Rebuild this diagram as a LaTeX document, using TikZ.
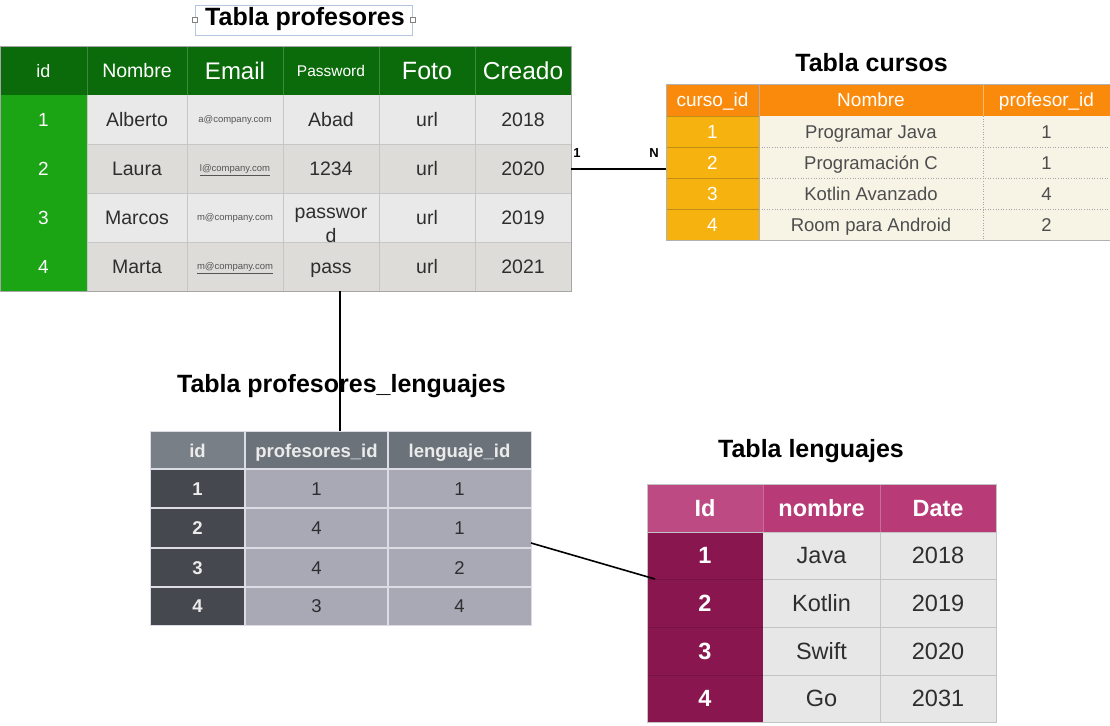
\documentclass[tikz,border=0pt]{standalone}
\usepackage{fontspec}
\setmainfont{Liberation Sans}
\definecolor{profhead}{HTML}{0B6B0B}
\definecolor{profid}{HTML}{1BA514}
\definecolor{proflight}{HTML}{E9E9E9}
\definecolor{profdark}{HTML}{DDDCD8}
\definecolor{profgrid}{HTML}{C6C6C6}
\definecolor{txt}{HTML}{2E2E2E}
\definecolor{mailtxt}{HTML}{555555}
\definecolor{curhead}{HTML}{FA8A0C}
\definecolor{curid}{HTML}{F6B20F}
\definecolor{curbody}{HTML}{F7F4E6}
\definecolor{curline}{HTML}{C28C18}
\definecolor{plhead}{HTML}{6B727A}
\definecolor{plheadid}{HTML}{787F87}
\definecolor{plid}{HTML}{45484F}
\definecolor{plbody}{HTML}{A8A9B5}
\definecolor{plgrid}{HTML}{DCDCE4}
\definecolor{lghead}{HTML}{B83A77}
\definecolor{lgheadid}{HTML}{BE4A83}
\definecolor{lgid}{HTML}{8A1650}
\definecolor{lgbody}{HTML}{E7E7E7}
\definecolor{lggrid}{HTML}{C4C4C4}
\definecolor{selbox}{HTML}{B4C6E2}
\tikzset{
  frame/.style={inner sep=0pt, outer sep=0pt, draw=#1, line width=0.8pt},
  tt/.style={inner sep=0pt, outer sep=0pt, align=center},
  titletext/.style={font=\fontsize{25}{30}\selectfont\bfseries, anchor=base, inner sep=0pt},
  conn/.style={line width=2pt, black},
  fs/.style={font=\fontsize{#1}{#1}\selectfont, text height={#1*0.716pt}, text depth=0pt},
  fsb/.style={font=\fontsize{#1}{#1}\selectfont\bfseries, text height={#1*0.716pt}, text depth=0pt},
}
\begin{document}
\begin{tikzpicture}[x=1pt,y=-1pt]
\useasboundingbox (0,0) rectangle (1110,725);
\fill[white] (0,0) rectangle (1110,725);

% ================= Tabla profesores =================
\node[titletext] (tprof) at (305,26) {Tabla profesores};
\node[draw=selbox, line width=0.6pt, minimum width=217pt, minimum height=30pt, inner sep=0pt] (sel) at (303.5,20) {};
\foreach \s in {west,east}
  \node[draw=gray, fill=white, line width=0.5pt, minimum size=5pt, inner sep=0pt] (h\s) at (sel.\s) {};

\fill[profhead] (0,46) rectangle (571,95);
\fill[profid] (0,95) rectangle (87,291);
\fill[proflight] (87,95) rectangle (571,144);
\fill[profdark] (87,144) rectangle (571,193);
\fill[proflight] (87,193) rectangle (571,242);
\fill[profdark] (87,242) rectangle (571,291);
\foreach \x in {87,187,283,379,475} {
  \draw[profgrid, line width=0.8pt] (\x,95) -- (\x,291);
  \draw[profhead!80!white, line width=0.8pt] (\x,46) -- (\x,95);
}
\foreach \y in {144,193,242}
  \draw[profgrid, line width=0.8pt] (87,\y) -- (571,\y);
\node[frame=gray!70, minimum width=571pt, minimum height=245pt] (prof) at (285.5,168.5) {};

\foreach \x/\t/\s [count=\i] in {43.5/id/18, 137/Nombre/19.5, 235/Email/24, 331/Password/15.5, 427/Foto/25, 523/Creado/24.5}
  \node[tt, fs=\s, text=white] (ph\i) at (\x,71) {\t};
\foreach \y [count=\i] in {119.5,168.5,217.5,266.5}
  \node[tt, fs=19, text=white] (pid\i) at (43.5,\y) {\i};
\foreach \y/\n/\e/\p/\c [count=\i] in {
  119.5/Alberto/{a@company.com}/Abad/2018,
  168.5/Laura/{\underline{l@company.com}}/1234/2020,
  217.5/Marcos/{m@company.com}/{}/2019,
  266.5/Marta/{\underline{m@company.com}}/pass/2021} {
  \node[tt, fs=19.5, text=txt] (pn\i) at (137,\y) {\n};
  \node[tt, fs=9.5, text=mailtxt] (pe\i) at (235,\y) {\e};
  \node[tt, fs=19.5, text=txt] (pp\i) at (331,\y) {\p};
  \node[tt, fs=19.5, text=txt] (pf\i) at (427,\y) {url};
  \node[tt, fs=19.5, text=txt] (pc\i) at (523,\y) {\c};
}
\node[tt, font=\fontsize{19.5}{24}\selectfont, text=txt, anchor=base] (pp3b) at (331,242) {passwor\\d};

% ================= Tabla cursos =================
\node[titletext] (tcur) at (871.5,71) {Tabla cursos};
\fill[curhead] (666,84) rectangle (1110,116);
\fill[curid] (666,116) rectangle (759,240);
\fill[curbody] (759,116) rectangle (1110,240);
\foreach \y in {147,178,209} {
  \draw[curline, line width=0.8pt] (666,\y) -- (759,\y);
  \draw[gray!70, line width=0.6pt, dotted] (759,\y) -- (1110,\y);
}
\draw[curline, line width=0.8pt] (666,116) -- (759,116);
\draw[gray!60, line width=0.8pt] (759,84) -- (759,240);
\draw[gray!70, line width=0.6pt, dotted] (983,116) -- (983,240);
\draw[curhead!60!white, line width=0.8pt] (983,84) -- (983,116);
\node[frame=gray!60, minimum width=444pt, minimum height=156pt] (cur) at (888,162) {};
\foreach \x/\t [count=\i] in {712.5/curso\_id, 871/Nombre, 1046.5/profesor\_id}
  \node[tt, fs=19, text=white] (ch\i) at (\x,100) {\t};
\foreach \y/\n/\p [count=\i] in {131.5/Programar Java/1, 162.5/Programación C/1, 193.5/Kotlin Avanzado/4, 224.5/Room para Android/2} {
  \node[tt, fs=19, text=white] (cid\i) at (712.5,\y) {\i};
  \node[tt, fs=18.5, text=txt!85!white] (cn\i) at (871,\y) {\n};
  \node[tt, fs=18.5, text=txt!85!white] (cp\i) at (1046.5,\y) {\p};
}

% connector profesores - cursos
\draw[conn] (prof.east) -- (prof.east -| cur.west);
\node[tt, fsb=13] (l1) at (577,153) {1};
\node[tt, fsb=13] (lN) at (654,153) {N};

% ================= Tabla profesores_lenguajes =================
\node[titletext] (tpl) at (341.5,392) {Tabla profesores\_lenguajes};
\fill[plhead] (150,431) rectangle (531,469);
\fill[plheadid] (150,431) rectangle (245,469);
\fill[plid] (150,469) rectangle (245,625);
\fill[plbody] (245,469) rectangle (531,625);
\foreach \y in {469,508,548,587}
  \draw[plgrid, line width=1.2pt] (150,\y) -- (531,\y);
\foreach \x in {245,388}
  \draw[plgrid, line width=1.2pt] (\x,431) -- (\x,625);
\node[frame=plgrid, minimum width=381pt, minimum height=194pt] (plg) at (340.5,528) {};
\foreach \x/\t [count=\i] in {197.5/id, 316.5/profesores\_id, 459.5/lenguaje\_id}
  \node[tt, fsb=18.5, text=white!92!black] (lh\i) at (\x,451) {\t};
\foreach \y/\a/\b [count=\i] in {488.5/1/1, 528/4/1, 567.5/4/2, 606/3/4} {
  \node[tt, fsb=18.5, text=white!92!black] (lid\i) at (197.5,\y) {\i};
  \node[tt, fs=18.5, text=txt] (la\i) at (316.5,\y) {\a};
  \node[tt, fs=18.5, text=txt] (lb\i) at (459.5,\y) {\b};
}

% connector profesores - profesores_lenguajes
\coordinate (vx) at (340,0);
\draw[conn] (prof.south -| vx) -- (plg.north -| vx);

% ================= Tabla lenguajes =================
\node[titletext] (tlg) at (811,457) {Tabla lenguajes};
\fill[lghead] (647,484) rectangle (996,532);
\fill[lgheadid] (647,484) rectangle (763,532);
\fill[lgid] (647,532) rectangle (763,722);
\fill[lgbody] (763,532) rectangle (996,722);
\foreach \y in {579,627,675} {
  \draw[lggrid, line width=1pt] (763,\y) -- (996,\y);
  \draw[lgid!85!black, line width=0.8pt] (647,\y) -- (763,\y);
}
\draw[lggrid, line width=1pt] (880,532) -- (880,722);
\draw[lghead!75!white, line width=1pt] (763,484) -- (763,532);
\draw[lghead!75!white, line width=1pt] (880,484) -- (880,532);
\draw[lggrid, line width=1pt] (647,532) -- (996,532);
\node[frame=lggrid, minimum width=349pt, minimum height=238pt] (lg) at (821.5,603) {};
\foreach \x/\t [count=\i] in {705/Id, 821.5/nombre, 938/Date}
  \node[tt, fsb=23.5, text=white] (gh\i) at (\x,508) {\t};
\foreach \y/\n/\d [count=\i] in {555.5/Java/2018, 603/Kotlin/2019, 651/Swift/2020, 698.5/Go/2031} {
  \node[tt, fsb=23.5, text=white] (gid\i) at (705,\y) {\i};
  \node[tt, fs=23.5, text=txt] (gn\i) at (821.5,\y) {\n};
  \node[tt, fs=23.5, text=txt] (gd\i) at (938,\y) {\d};
}

% connector profesores_lenguajes - lenguajes
\coordinate (ca) at (0,543);
\coordinate (cb) at (655,579);
\draw[line width=1.6pt, black] (plg.east |- ca) -- (cb);
\end{tikzpicture}
\end{document}
